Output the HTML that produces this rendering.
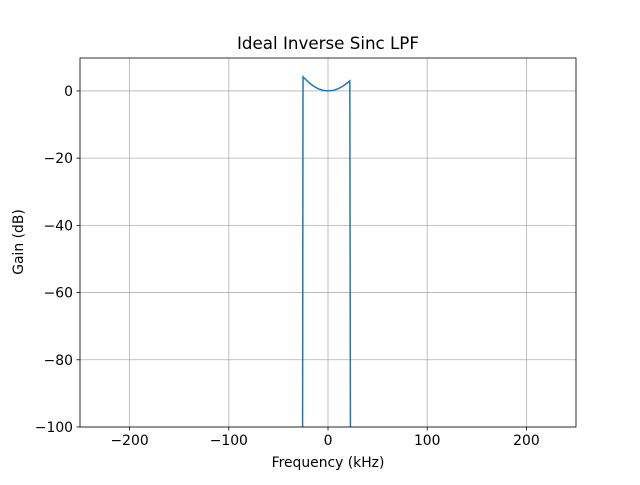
<!DOCTYPE html>
<html><head><meta charset="utf-8"><style>
body{margin:0;background:#fff;}
svg text{font-family:"DejaVu Sans","Liberation Sans",sans-serif;fill:#000;}
</style></head><body>
<svg id="chart" width="640" height="480">
<rect width="640" height="480" fill="#fff"/>
<g id="grid"></g>
<g id="ticks"></g>
<path id="curve" fill="none" stroke="#1f77b4" stroke-width="1.5"/>
<rect x="80" y="58" width="496" height="369" fill="none" stroke="#000" stroke-width="0.8"/>
<text x="328" y="49" font-size="16.7" text-anchor="middle">Ideal Inverse Sinc LPF</text>
<text x="328" y="467" font-size="13.9" text-anchor="middle">Frequency (kHz)</text>
<text x="23" y="242" font-size="13.9" text-anchor="middle" transform="rotate(-90 23 242)">Gain (dB)</text>
</svg>
<script>
const xTicks=[-200,-100,0,100,200];
const yTicks=[0,-20,-40,-60,-80,-100];
const freqs=[-25.6,-25.2,-20,-15,-10,-5,0,5,10,15,20,22,22.6];
const gains=[-100,4.2,2.7,1.5,0.67,0.17,0,0.15,0.62,1.4,2.5,3.0,-100];
const L=80,R=576,T=58,B=427,xMin=-250,xMax=250,yMin=-100,yMax=9.8;
const sx=v=>L+(v-xMin)/(xMax-xMin)*(R-L);
const sy=v=>B-(v-yMin)/(yMax-yMin)*(B-T);
const ns="http://www.w3.org/2000/svg";
const grid=document.getElementById('grid'),tk=document.getElementById('ticks');
function mk(tag,attrs,parent){const e=document.createElementNS(ns,tag);for(const k in attrs)e.setAttribute(k,attrs[k]);parent.appendChild(e);return e;}
xTicks.forEach(v=>{
 const x=sx(v);
 const g=mk('line',{x1:x,x2:x,y1:T,y2:B,stroke:'#b0b0b0','stroke-width':0.8},grid);
 
 
 mk('line',{x1:x,x2:x,y1:B,y2:B+3.5,stroke:'#000','stroke-width':0.8},tk);
 const t=mk('text',{x:x,y:B+18,'font-size':13.9,'text-anchor':'middle'},tk);
 t.textContent=(v<0?'\u2212'+(-v):v);
 
 
});
yTicks.forEach(v=>{
 const y=sy(v);
 const g=mk('line',{x1:L,x2:R,y1:y,y2:y,stroke:'#b0b0b0','stroke-width':0.8},grid);
 
 
 mk('line',{x1:L-3.5,x2:L,y1:y,y2:y,stroke:'#000','stroke-width':0.8},tk);
 const t=mk('text',{x:L-7,y:y+5,'font-size':13.9,'text-anchor':'end'},tk);
 t.textContent=(v<0?'\u2212'+(-v):v);
 
 
});
document.getElementById('curve').setAttribute('d',freqs.map((f,i)=>(i?'L':'M')+sx(f).toFixed(2)+' '+sy(gains[i]).toFixed(2)).join(' '));
</script>
</body></html>
